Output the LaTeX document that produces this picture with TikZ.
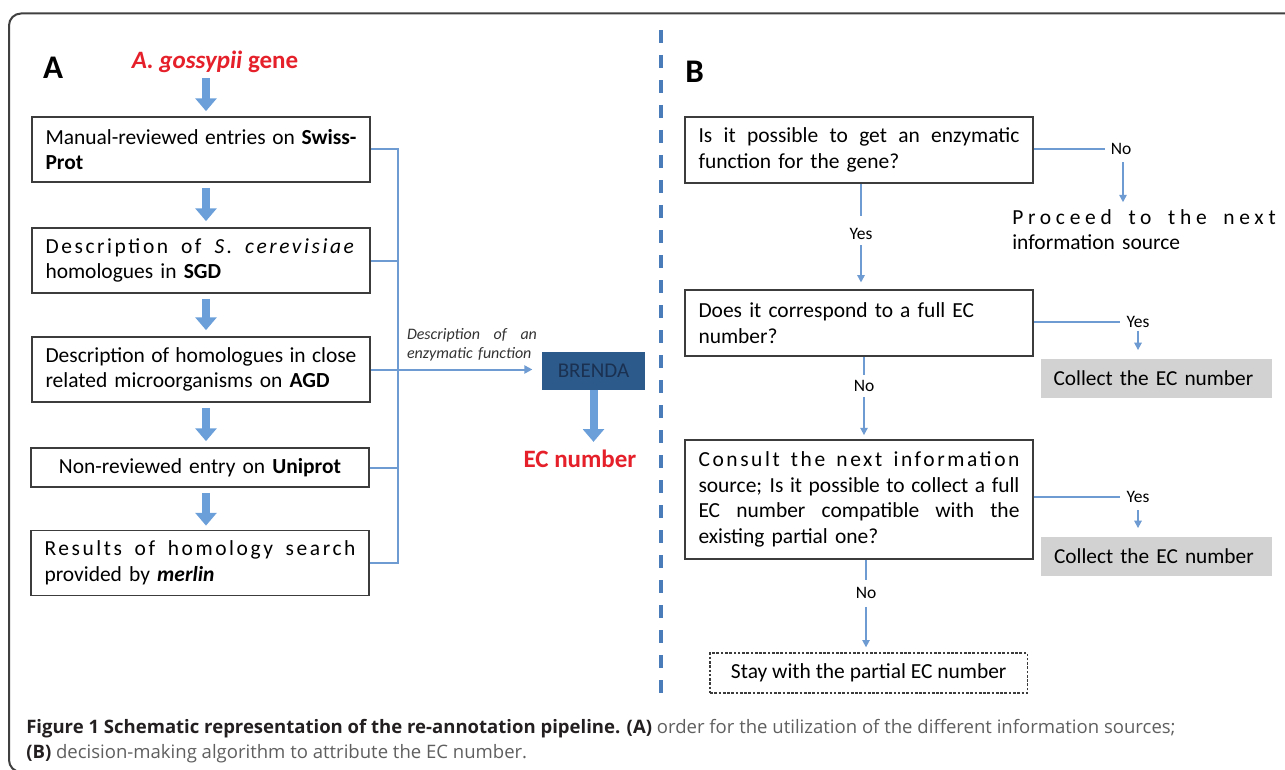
\documentclass[tikz,border=0pt]{standalone}
\usepackage{fontspec}
\setmainfont{Carlito}
\newfontfamily\capfont{Open Sans}
\newfontfamily\lsA[LetterSpace=12]{Carlito}
\newfontfamily\lsB[LetterSpace=22]{Carlito}
\usetikzlibrary{arrows.meta}
\definecolor{ecred}{HTML}{E5202A}
\definecolor{lineblue}{HTML}{6E9BD1}
\definecolor{arrblue}{HTML}{6A9FDA}
\definecolor{divblue}{HTML}{4A7CBA}
\definecolor{brfill}{HTML}{2C5A8A}
\definecolor{brtext}{HTML}{1B3152}
\definecolor{grayfill}{HTML}{D2D2D2}
\definecolor{boxdraw}{HTML}{3C3C3C}
\definecolor{capdark}{HTML}{231F20}
\definecolor{capgray}{HTML}{5F5F5F}
\newcommand\spr[1]{\makebox[\linewidth][s]{\spaceskip=.22em plus 1fil\relax #1}}
\tikzset{
 abox/.style={draw=boxdraw, line width=1.3pt, text width=233.25pt, inner xsep=10.125pt, inner ysep=0pt, minimum height=48.75pt, align=left, font=\fontsize{16.1}{19.2}\selectfont},
 bbox/.style={draw=boxdraw, line width=1.3pt, text width=240.75pt, inner xsep=10.125pt, inner ysep=0pt, minimum height=49.5pt, align=left, font=\fontsize{16.1}{19.2}\selectfont},
 graybox/.style={fill=grayfill, text width=153.75pt, inner xsep=9.75pt, inner ysep=0pt, minimum height=29.25pt, align=left, font=\fontsize{16}{19.2}\selectfont},
 yn/.style={inner sep=0pt, font=\fontsize{13.1}{15}\selectfont},
 blk/.style={draw=arrblue, line width=6pt, -{Triangle[length=9.5pt,width=15.5pt]}},
 conn/.style={draw=lineblue, line width=1.5pt},
 bconn/.style={draw=lineblue, line width=1.2pt},
 barr/.style={bconn, -{Triangle[length=5.5pt,width=5.5pt]}},
 panellbl/.style={inner sep=0pt, font=\bfseries\fontsize{24.75}{28}\selectfont},
}
\begin{document}
\begin{tikzpicture}[x=0.75pt,y=-0.75pt]
\useasboundingbox (0,0) rectangle (1285,770);
% frame
\draw[black!75, line width=1.5pt, rounded corners=9pt] (1300,13.5) -- (9,13.5) -- (9,772) -- (1300,772);
% divider
\draw[divblue, line width=3pt, dash pattern=on 9.75pt off 9pt] (661,30) -- (661,697);

% ---------- Panel A ----------
\node[panellbl] (lA) at (53,68) {A};
\node[inner sep=0pt, text=ecred, font=\bfseries\fontsize{18.75}{22}\selectfont] (gene) at (215,62) {\textit{A. gossypii} gene};

\node[abox] (a1) at (201,149.5) {\spr{Manual-reviewed entries on \textbf{Swiss-}}\\\textbf{Prot}};
\node[abox] (a2) at (201,260.5) {\spr{\lsA Description of \textit{S. cerevisiae}}\\homologues in \textbf{SGD}};
\node[abox] (a3) at (201,369.5) {\spr{Description of homologues in close}\\related microorganisms on \textbf{AGD}};
\node[abox, align=center, minimum height=29.25pt] (a4) at (200,467.5) {Non-reviewed entry on \textbf{Uniprot}};
\node[abox] (a5) at (200,563) {\spr{\lsA Results of homology search}\\provided by \textbf{\textit{merlin}}};

\coordinate (ax) at (206,0);
\draw[blk, shorten <=3.75pt, shorten >=3.75pt] (gene.south -| ax) -- (a1.north -| ax);
\draw[blk, shorten <=3.75pt, shorten >=4.5pt] (a1.south -| ax) -- (a2.north -| ax);
\draw[blk, shorten <=3.75pt, shorten >=4.5pt] (a2.south -| ax) -- (a3.north -| ax);
\draw[blk, shorten <=3.75pt, shorten >=4.5pt] (a3.south -| ax) -- (a4.north -| ax);
\draw[blk, shorten <=3.75pt, shorten >=3pt] (a4.south -| ax) -- (a5.north -| ax);

\node[fill=brfill, text=brtext, minimum width=77.25pt, minimum height=28.5pt, inner sep=0pt, font=\fontsize{15.75}{18}\selectfont] (br) at (593.5,371) {BRENDA};
\node[inner sep=0pt, text=ecred, font=\bfseries\fontsize{18.75}{22}\selectfont] (ec) at (580,459) {EC number};
\draw[blk, shorten >=6pt] (br.south) -- (br.south |- ec.north);

\coordinate (vx) at (398,0);
\draw[conn] (a1.east) -- (a1.east -| vx) -- (a5.east -| vx) -- (a5.east);
\draw[conn] (a2.east) -- (a2.east -| vx);
\draw[conn] (a4.east) -- (a4.east -| vx);
\draw[conn, -{Triangle[length=6pt,width=6pt]}, shorten >=7pt] (a3.east) -- (a3.east -| br.west);
\node[inner sep=0pt, text width=97.5pt, align=left, text=black!80, font=\itshape\fontsize{12}{14.25}\selectfont] (desc) at (472,344.5) {\spr{Description of an}\\enzymatic function};

% ---------- Panel B ----------
\node[panellbl] (lB) at (694.5,71.5) {B};
\node[bbox] (b1) at (859,150) {\spr{Is it possible to get an enzymatic}\\function for the gene?};
\node[bbox] (b2) at (859,323) {Does it correspond to a full EC\\number?};
\node[bbox, minimum height=89.25pt] (b3) at (859,499.5) {\spr{\lsA Consult the next information}\\\spr{source; Is it possible to collect a full}\\\spr{EC number compatible with the}\\existing partial one?};
\node[draw=boxdraw, line width=1pt, dash pattern=on 2pt off 1.2pt, minimum width=238pt, minimum height=30pt, inner sep=0pt, font=\fontsize{16.1}{19.2}\selectfont] (st) at (868.75,673) {Stay with the partial EC number};
\node[graybox] (g1) at (1156,378.5) {Collect the EC number};
\node[graybox] (g2) at (1156.5,556.5) {Collect the EC number};
\node[inner sep=0pt, text width=197.6pt, align=left, font=\fontsize{16.1}{19.2}\selectfont] (proc) at (1144,229.5) {\spr{\lsB Proceed to the next}\\information source};

\node[yn] (n1) at (1121,149) {No};
\node[yn] (y1) at (861,234) {Yes};
\node[yn] (y2) at (1138,322) {Yes};
\node[yn] (n2) at (864,386) {No};
\node[yn] (y3) at (1138,497) {Yes};
\node[yn] (n3) at (866,593) {No};
\coordinate (nx) at (1123,0);

\draw[bconn, shorten >=4.5pt] (n1.west -| b1.east) -- (n1.west);
\draw[barr, shorten <=5.5pt, shorten >=5pt] (n1.south -| nx) -- (nx |- proc.north);
\draw[bconn, shorten >=9.3pt] (b1.south -| y1) -- (y1.north);
\draw[barr, shorten <=4pt, shorten >=5pt] (y1.south) -- (y1.south |- b2.north);
\draw[bconn, shorten >=5pt] (y2.west -| b2.east) -- (y2.west);
\draw[barr, shorten <=2pt, shorten >=6.5pt] (y2.south) -- (y2.south |- g1.north);
\draw[bconn, shorten >=4pt] (b2.south -| n2) -- (n2.north);
\draw[barr, shorten <=4pt, shorten >=3pt] (n2.south) -- (n2.south |- b3.north);
\draw[bconn, shorten >=5pt] (y3.west -| b3.east) -- (y3.west);
\draw[barr, shorten <=5.5pt, shorten >=6.5pt] (y3.south) -- (y3.south |- g2.north);
\draw[bconn, shorten >=5.5pt] (b3.south -| n3) -- (n3.north);
\draw[barr, shorten <=6pt, shorten >=3.75pt] (n3.south) -- (n3.south |- st.north);

% ---------- caption ----------
\node[anchor=base west, inner sep=0pt, text=capgray, font=\capfont\fontsize{13.9}{18.75}\selectfont] (cap1) at (26,733) {\textcolor{capdark}{\bfseries Figure 1 Schematic representation of the re-annotation pipeline. (A)} order for the utilization of the different information sources;};
\node[anchor=base west, inner sep=0pt, text=capgray, font=\capfont\fontsize{13.9}{18.75}\selectfont] (cap2) at (26,758) {\textcolor{capdark}{\bfseries (B)} decision-making algorithm to attribute the EC number.};
\end{tikzpicture}
\end{document}
